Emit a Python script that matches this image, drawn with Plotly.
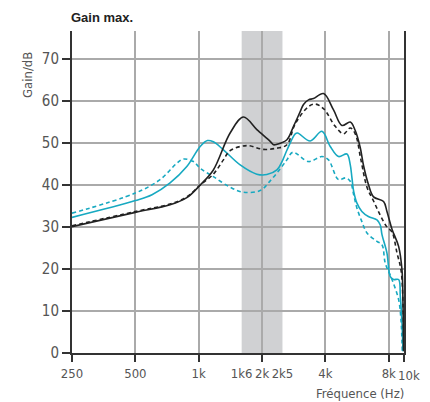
import plotly.graph_objects as go
import math

# ---- data ----
f_black = [250, 500, 731, 878, 1016, 1174, 1410, 1632, 1889, 2186, 2266, 2352, 2624, 2821, 3036, 3147, 3325, 3511,
           3918, 4371, 4793, 5248, 5543, 5850, 6071, 6400, 6774, 7557, 7843, 8287, 8909, 9245, 9346, 9409]
g_black = [30.1, 33.5, 35.3, 37.0, 40.0, 43.6, 52.4, 56.2, 53.2, 50.4, 49.6, 49.7, 50.8, 54.0, 57.5, 59.2, 60.3, 60.6,
           61.8, 57.9, 54.2, 55.0, 53.0, 49.0, 44.6, 40.2, 37.2, 36.1, 33.7, 29.5, 25.4, 19.8, 11.9, 0.4]

f_black_d = [250, 500, 731, 878, 1016, 1174, 1310, 1410, 1693, 2031, 2352, 2624, 2874, 3325, 3577, 3918, 4453,
             4877, 5248, 5543, 5900, 6302, 6774, 7290, 7843, 8287, 8756, 9145, 9346, 9409]
g_black_d = [30.3, 33.7, 35.5, 37.2, 40.0, 42.6, 46.0, 48.2, 49.4, 48.5, 48.8, 49.6, 54.6, 58.7, 59.3, 58.2, 54.0,
             52.2, 53.6, 52.2, 46.0, 39.5, 36.2, 32.8, 30.0, 28.8, 23.8, 19.8, 12.0, 0.4]

f_cyan = [250, 500, 600, 731, 878, 1016, 1100, 1174, 1310, 1574, 1889, 2108, 2352, 2484, 2624, 2874, 2950, 3387,
          3850, 4216, 4617, 5062, 5250, 5347, 5450, 5648, 5960, 6400, 7030, 7290, 7427, 7843, 8135, 8432, 8909,
          9075, 9245, 9346]
g_cyan = [32.3, 36.3, 37.7, 40.5, 44.4, 49.2, 50.6, 50.3, 48.4, 44.8, 42.6, 42.5, 43.6, 45.5, 48.3, 52.2, 52.4, 50.5,
          52.8, 49.2, 46.8, 47.4, 44.8, 41.7, 38.5, 35.7, 33.7, 32.5, 31.7, 30.5, 28.2, 23.8, 18.2, 17.5, 17.5,
          13.5, 7.1, 0.4]

f_cyan_d = [250, 500, 655, 787, 846, 944, 1016, 1174, 1410, 1632, 1959, 2186, 2450, 2624, 2800, 3325, 3850, 4138,
            4617, 5000, 5248, 5450, 5648, 5960, 6302, 7030, 7427, 7699, 8287, 8909, 9145, 9274]
g_cyan_d = [33.3, 38.1, 41.3, 45.2, 46.2, 45.6, 44.0, 42.0, 39.5, 38.3, 38.7, 41.0, 44.0, 46.0, 47.8, 45.6, 46.8, 46.0,
            41.3, 41.7, 40.9, 37.7, 34.5, 31.3, 28.6, 26.6, 25.8, 21.4, 17.5, 12.7, 7.9, 0.4]

band = [1600, 2500]
x_end = 9450
x_tick_vals = [250, 500, 1000, 1600, 2000, 2500, 4000, 8000]
x_tick_text = ["250", "500", "1k", "1k6", "2k", "2k5", "4k", "8k"]
x_end_label = "10k"
x_grid_vals = [250, 500, 1000, 2000, 4000, 8000, x_end]
y_tick_vals = [0, 10, 20, 30, 40, 50, 60, 70]

BLACK = "#222222"
CYAN = "#17a9c1"
TXT = "#555555"
FONT = "DejaVu Sans Condensed, Liberation Sans Narrow, Liberation Sans, sans-serif"

# page has an 8px body margin -> figure is 422x394 placed at (8, 8)
W, H = 422, 394
ML, MR, MT, MB = 64, 26, 23, 49
PW, PH = W - ML - MR, H - MT - MB

fig = go.Figure()
line_kw = dict(width=1.6, shape="spline", smoothing=1.0)
fig.add_trace(go.Scatter(x=f_cyan_d, y=g_cyan_d, mode="lines", line=dict(color=CYAN, dash="4px,3px", **line_kw)))
fig.add_trace(go.Scatter(x=f_cyan, y=g_cyan, mode="lines", line=dict(color=CYAN, **line_kw)))
fig.add_trace(go.Scatter(x=f_black_d, y=g_black_d, mode="lines", line=dict(color=BLACK, dash="4px,3px", **line_kw)))
fig.add_trace(go.Scatter(x=f_black, y=g_black, mode="lines", line=dict(color=BLACK, **line_kw)))

fig.add_vrect(x0=band[0], x1=band[1], fillcolor="#d0d1d3", line_width=0, layer="below")

fig.update_layout(
    width=W, height=H,
    margin=dict(l=ML, r=MR, t=MT, b=MB, autoexpand=False),
    paper_bgcolor="white", plot_bgcolor="white",
    showlegend=False,
    font=dict(family=FONT, color=TXT, size=13),
    title=dict(text="<b>Gain max.</b>", x=63 / W, xanchor="left", y=1 - 9 / H, yanchor="middle",
               font=dict(family="Liberation Sans, Arial, sans-serif", size=13, color="#222222")),
)
fig.update_xaxes(
    type="log", range=[math.log10(250), math.log10(x_end)], automargin=False,
    tickvals=x_tick_vals, ticktext=x_tick_text, ticks="", showgrid=False, tickangle=0,
    ticklabelstandoff=7,
    tickfont=dict(size=13, color=TXT),
    minor=dict(tickvals=x_grid_vals, ticks="outside", ticklen=7, tickcolor="#333333", tickwidth=1.5,
               showgrid=True, gridcolor="#aaaaaa", gridwidth=1.5),
    showline=True, linecolor="#333333", linewidth=2, zeroline=False, fixedrange=True,
)
fig.update_yaxes(
    range=[0, 76.7], tickvals=y_tick_vals, ticks="outside", ticklen=8, tickcolor="#333333", tickwidth=1.5,
    showgrid=True, gridcolor="#aaaaaa", gridwidth=1.5, zeroline=False, automargin=False,
    tickfont=dict(size=15, color=TXT),
    showline=True, linecolor="#333333", linewidth=2, mirror=True,
    title=None,
)
fig.add_annotation(text=x_end_label, xref="x", yref="paper", x=math.log10(x_end), y=-22 / PH, xanchor="center",
                   xshift=5, yanchor="middle", showarrow=False, font=dict(size=13, color=TXT))
fig.add_annotation(text="Gain/dB", xref="paper", yref="paper", x=-45 / PW, y=1 - 44 / PH, textangle=-90,
                   showarrow=False, font=dict(size=13, color=TXT), xanchor="center", yanchor="middle")
fig.add_annotation(text="Fréquence (Hz)", xref="paper", yref="paper", x=1.005, y=-40 / PH, xanchor="right",
                   yanchor="middle", showarrow=False, font=dict(size=13, color=TXT))

fig.write_html("out.html")
